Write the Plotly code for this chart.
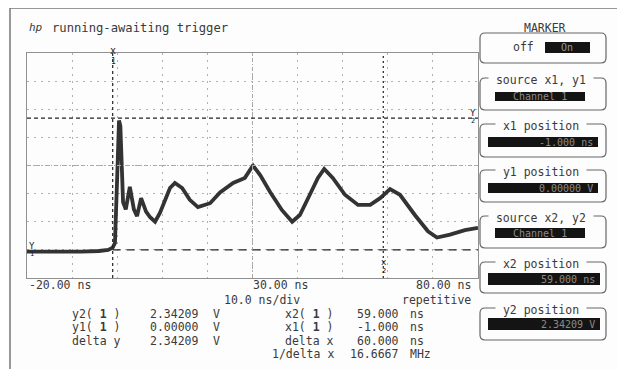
import plotly.graph_objects as go

# ---------------- data ----------------
time_ns = [-20, -16, -12, -8, -4, -2, -1.0, -0.5, 0.0, 0.4, 0.7, 1.0, 1.3, 1.9,
           2.8, 3.7, 4.4, 5.3, 6.4, 7.3, 8.4, 9.5, 10.6, 11.7, 12.8, 14.4, 16.1,
           17.9, 20.6, 22.8, 25.7, 28.3, 30.1, 31.7, 33.9, 36.5, 38.8, 40.5, 42.7,
           44.5, 45.9, 47.8, 50.5, 53.4, 56.1, 58.3, 60.5, 62.7, 66.0, 68.9, 70.9,
           73.8, 77.1, 80]
volts = [-0.03, -0.03, -0.04, -0.03, -0.02, 0.0, 0.04, 0.12, 1.3, 2.3, 2.2, 1.6,
         0.85, 0.72, 1.12, 0.72, 0.6, 0.92, 0.68, 0.58, 0.5, 0.66, 0.88, 1.1,
         1.19, 1.1, 0.89, 0.76, 0.83, 1.02, 1.19, 1.28, 1.5, 1.33, 1.03, 0.71,
         0.5, 0.62, 0.98, 1.28, 1.44, 1.28, 0.98, 0.8, 0.8, 0.92, 1.08, 0.98,
         0.62, 0.33, 0.22, 0.27, 0.35, 0.39]

x_range = [-20, 80]
y_range = [-0.5, 3.5]
x1_ns, x2_ns = -1.0, 59.0
y1_v, y2_v = 0.0, 2.34209
x_tick_labels = ["-20.00 ns", "30.00 ns", "80.00 ns"]

meas_left = [("y2( <b>1</b> )", "2.34209", "V"),
             ("y1( <b>1</b> )", "0.00000", "V"),
             ("delta y", "2.34209", "V")]
meas_right = [("x2( <b>1</b> )", "59.000", "ns"),
              ("x1( <b>1</b> )", "-1.000", "ns"),
              ("delta x", "60.000", "ns"),
              ("1/delta x", "16.6667", "MHz")]

panel_labels = ["source x1, y1", "x1 position", "y1 position",
                "source x2, y2", "x2 position", "y2 position"]
panel_values = ["Channel 1", "-1.000 ns", "0.00000 V",
                "Channel 1", "59.000 ns", "2.34209 V"]

# ---------------- layout helpers ----------------
W, H = 625, 369
OFF = 8  # page body margin
def px(x):
    return (x - OFF) / W
def py(y):
    return 1 - (y - OFF) / H

FONT = "DejaVu Sans Mono"
TXT = "#3a3a3a"
FS = 11.5

fig = go.Figure()
fig.add_trace(go.Scatter(x=time_ns, y=volts, mode="lines",
                         line=dict(color="#333333", width=3.8),
                         hoverinfo="skip", showlegend=False))

grid = dict(showgrid=True, gridcolor="#b0b0b0", gridwidth=1, griddash="2px,5px",
            zeroline=False, showticklabels=False, ticks="",
            showline=True, mirror=True, linecolor="#909090", linewidth=1)
fig.update_layout(
    width=W, height=H, margin=dict(l=0, r=0, t=0, b=0),
    paper_bgcolor="#fdfdfd", plot_bgcolor="#fdfdfd",
    xaxis=dict(range=x_range, dtick=10, tick0=-20, domain=[px(27), px(478)], **grid),
    yaxis=dict(range=y_range, dtick=0.5, tick0=-0.5, domain=[py(278), py(53)], **grid),
    font=dict(family=FONT, color=TXT, size=FS),
)

shapes = []
# center crosshair
shapes.append(dict(type="line", xref="x", yref="y", x0=x_range[0], x1=x_range[1],
                   y0=1.5, y1=1.5, line=dict(color="#a8a8a8", width=1, dash="4px,2px,1px,2px")))
shapes.append(dict(type="line", xref="x", yref="y", x0=30, x1=30,
                   y0=y_range[0], y1=y_range[1], line=dict(color="#a8a8a8", width=1, dash="4px,2px,1px,2px")))
# marker lines
shapes.append(dict(type="line", xref="x", yref="y", x0=x1_ns, x1=x1_ns,
                   y0=y_range[0], y1=y_range[1], line=dict(color="#222", width=1.2, dash="3px,3px")))
shapes.append(dict(type="line", xref="x", yref="y", x0=x2_ns, x1=x2_ns,
                   y0=y_range[0], y1=y_range[1], line=dict(color="#222", width=1.2, dash="2px,3px")))
shapes.append(dict(type="line", xref="x", yref="y", x0=x_range[0], x1=x_range[1],
                   y0=y2_v, y1=y2_v, line=dict(color="#222", width=1.2, dash="4px,3px")))
shapes.append(dict(type="line", xref="x", yref="y", x0=x1_ns, x1=x_range[1],
                   y0=y1_v, y1=y1_v, line=dict(color="#222", width=1.2, dash="8px,6px")))

# outer frame
for (a, b, c, d) in [(10, 8, 618, 8), (10, 8, 10, 380), (618, 8, 618, 380)]:
    shapes.append(dict(type="line", xref="paper", yref="paper", x0=px(a), y0=py(b),
                       x1=px(c), y1=py(d), line=dict(color="#777", width=1.5)))

def rbox(x0, y0, x1, y1, r=5):
    pts = (f"M {px(x0+r)},{py(y0)} L {px(x1-r)},{py(y0)} Q {px(x1)},{py(y0)} {px(x1)},{py(y0+r)} "
           f"L {px(x1)},{py(y1-r)} Q {px(x1)},{py(y1)} {px(x1-r)},{py(y1)} "
           f"L {px(x0+r)},{py(y1)} Q {px(x0)},{py(y1)} {px(x0)},{py(y1-r)} "
           f"L {px(x0)},{py(y0+r)} Q {px(x0)},{py(y0)} {px(x0+r)},{py(y0)} Z")
    return dict(type="path", xref="paper", yref="paper", path=pts,
                line=dict(color="#666", width=1.2))

def blk(x0, y0, x1, y1):
    return dict(type="rect", xref="paper", yref="paper", x0=px(x0), x1=px(x1),
                y0=py(y1), y1=py(y0), fillcolor="#141414", line=dict(width=0))

ann = []
def T(x, y, text, anchor="left", size=FS, color=TXT, bg=None, **kw):
    d = dict(x=px(x), y=py(y), xref="paper", yref="paper", text=text, showarrow=False,
             xanchor=anchor, yanchor="middle", borderpad=0,
             font=dict(family=FONT, size=size, color=color))
    if bg:
        d["bgcolor"] = bg
    d.update(kw)
    ann.append(d)

# right panel
T(545, 28, "MARKER", "center", size=11.5)
shapes.append(rbox(480, 33, 606, 63))
T(512, 47, "off", "left", size=11.5)
shapes.append(blk(545, 42, 590, 53))
T(567, 47.5, "On", "center", size=10, color="#9a9a9a")

boxes = [(78, 110, 92, 101, 495, 585), (124, 157, 137, 147, 488, 598),
         (170, 202, 183, 193, 488, 598), (216, 248, 228, 238, 495, 585),
         (262, 293, 273, 285, 488, 600), (308, 340, 318, 330, 488, 600)]
for (bt, bb, rt, rb, rl, rr), lab, val in zip(boxes, panel_labels, panel_values):
    shapes.append(rbox(480, bt, 606, bb))
    T(541, bt + 2, " " + lab + " ", "center", size=11.5, bg="#fdfdfd")
    shapes.append(blk(rl, rt, rr, rb))
    T((rl + rr) / 2 if "Channel" in val else rr - 4, (rt + rb) / 2 + 0.5, val,
      "center" if "Channel" in val else "right", size=10, color="#8a8a8a")

# header
T(28, 28, "<i>hp</i>", "left", size=11)
T(51, 28, "running-awaiting trigger", "left", size=12.2)

# x tick labels
T(28, 285, x_tick_labels[0], "left")
T(280, 285, x_tick_labels[1], "center")
T(472, 285, x_tick_labels[2], "right")
T(262, 300, "10.0 ns/div", "center")
T(472, 300, "repetitive", "right")

rows = [313.5, 327, 340.5, 354]
for (lab, val, unit), yy in zip(meas_left, rows):
    T(122, yy, lab, "right")
    T(149, yy, val, "left")
    T(212, yy, unit, "left")
for (lab, val, unit), yy in zip(meas_right, rows):
    T(335, yy, lab, "right")
    T(400, yy, val, "right")
    T(409, yy, unit, "left")

# marker glyphs
T(113, 51, "x", "center", size=10, color="#222")
T(113, 61, "1", "center", size=8, color="#222")
T(384, 262, "x", "center", size=9, color="#222")
T(384, 271, "2", "center", size=7, color="#222")
T(32, 246, "Y", "center", size=9, color="#222")
T(32, 254, "1", "center", size=7, color="#222")
T(473, 113, "Y", "center", size=9, color="#222")
T(473, 121, "2", "center", size=7, color="#222")

fig.update_layout(shapes=shapes, annotations=ann)
fig.write_html("out.html")
